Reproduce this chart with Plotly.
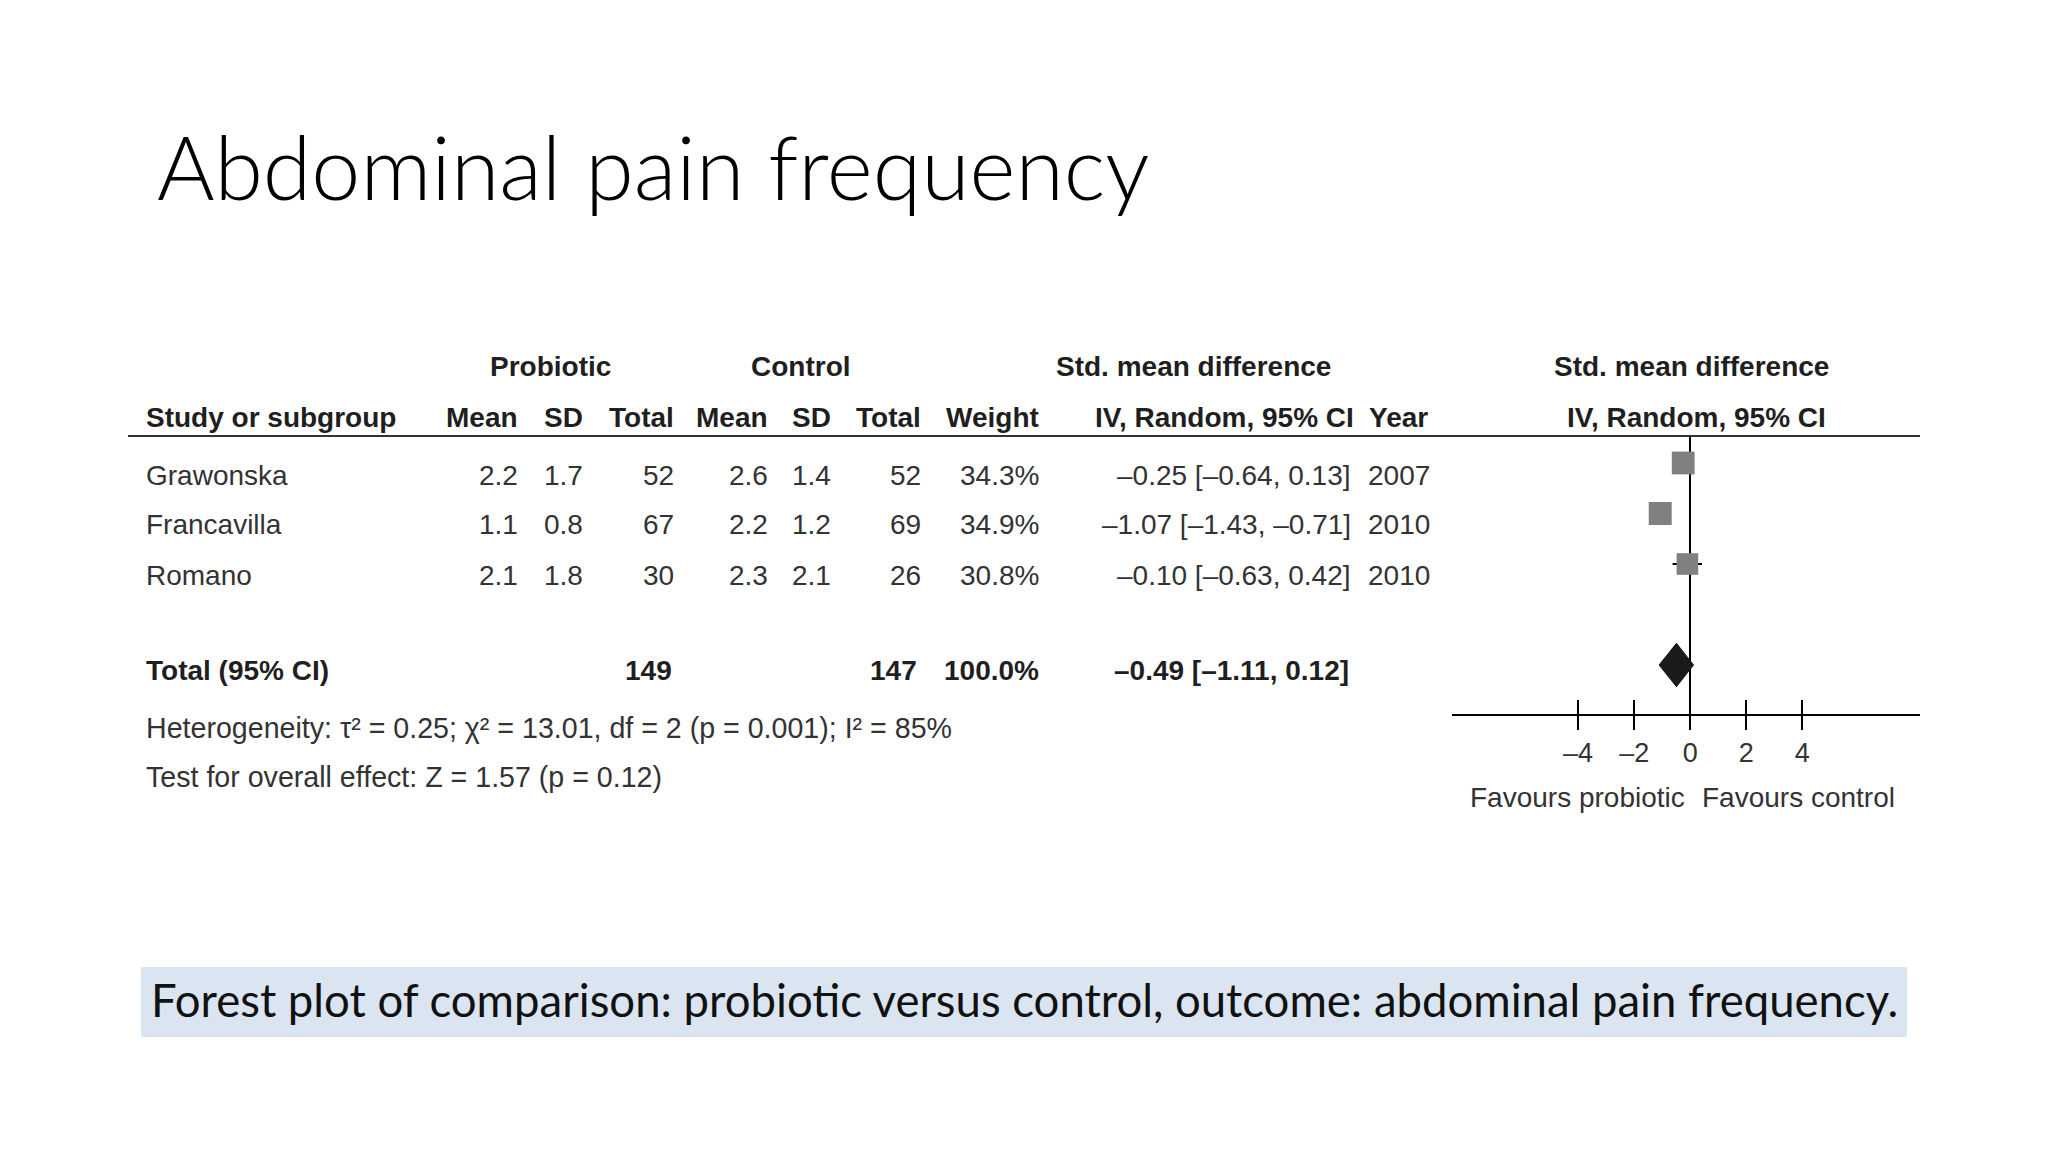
import plotly.graph_objects as go

# ---------------- data ----------------
studies = ["Grawonska", "Francavilla", "Romano"]
prob_mean = [2.2, 1.1, 2.1]
prob_sd = [1.7, 0.8, 1.8]
prob_n = [52, 67, 30]
ctrl_mean = [2.6, 2.2, 2.3]
ctrl_sd = [1.4, 1.2, 2.1]
ctrl_n = [52, 69, 26]
weight = [34.3, 34.9, 30.8]
smd = [-0.25, -1.07, -0.10]
ci_low = [-0.64, -1.43, -0.63]
ci_high = [0.13, -0.71, 0.42]
years = [2007, 2010, 2010]

total_label = "Total (95% CI)"
total_prob_n = 149
total_ctrl_n = 147
total_weight = 100.0
total_smd = -0.49
total_low = -1.11
total_high = 0.12

heterogeneity = "Heterogeneity: τ² = 0.25; χ² = 13.01, df = 2 (p = 0.001); I² = 85%"
overall_test = "Test for overall effect: Z = 1.57 (p = 0.12)"

tick_vals = [-4, -2, 0, 2, 4]
tick_text = ["–4", "–2", "0", "2", "4"]

title_text = "Abdominal pain frequency"
caption_text = "Forest plot of comparison: probiotic versus control, outcome: abdominal pain frequency."
favours_left = "Favours probiotic"
favours_right = "Favours control"

# ---------------- helpers ----------------
OFF = 8
W, H = 2048 - OFF, 1152 - OFF
SANS = "Liberation Sans, Arial, sans-serif"


def X(px):
    return (px - OFF) / W


def Y(py):
    return 1 - (py - OFF) / H


def fmt(v):
    s = f"{abs(v):.2f}"
    return "–" + s if v < 0 else s


annotations = []


def txt(s, x, y, anchor="left", bold=False, size=28, color="#333333", family=SANS, weight=None):
    annotations.append(dict(
        text=s, x=X(x), y=Y(y), xref="paper", yref="paper",
        xanchor=anchor, yanchor="middle", showarrow=False, borderpad=0,
        font=dict(family=family, size=size, color=color,
                  weight=weight if weight is not None else ("bold" if bold else "normal")),
    ))


HEAD = "#1f1f1f"
LEFT = 145

# header row 1
txt("Probiotic", 550, 367, "center", True, color=HEAD)
txt("Control", 801, 367, "center", True, color=HEAD)
txt("Std. mean difference", 1193, 367, "center", True, color=HEAD)
txt("Std. mean difference", 1691, 367, "center", True, color=HEAD)

# header row 2
col_right = {"pm": 519, "psd": 584, "pn": 675, "cm": 769, "csd": 832, "cn": 922, "w": 1040}
txt("Study or subgroup", LEFT, 417, "left", True, color=HEAD)
txt("Mean", col_right["pm"], 417, "right", True, color=HEAD)
txt("SD", col_right["psd"], 417, "right", True, color=HEAD)
txt("Total", col_right["pn"], 417, "right", True, color=HEAD)
txt("Mean", col_right["cm"], 417, "right", True, color=HEAD)
txt("SD", col_right["csd"], 417, "right", True, color=HEAD)
txt("Total", col_right["cn"], 417, "right", True, color=HEAD)
txt("Weight", col_right["w"], 417, "right", True, color=HEAD)
txt("IV, Random, 95% CI", 1355, 417, "right", True, color=HEAD)
txt("Year", 1368, 417, "left", True, color=HEAD)
txt("IV, Random, 95% CI", 1696, 417, "center", True, color=HEAD)

# study rows
for i, name in enumerate(studies):
    yy = 475 + 50 * i
    txt(name, LEFT, yy, "left")
    txt(f"{prob_mean[i]:.1f}", col_right["pm"], yy, "right")
    txt(f"{prob_sd[i]:.1f}", col_right["psd"], yy, "right")
    txt(str(prob_n[i]), col_right["pn"], yy, "right")
    txt(f"{ctrl_mean[i]:.1f}", col_right["cm"], yy, "right")
    txt(f"{ctrl_sd[i]:.1f}", col_right["csd"], yy, "right")
    txt(str(ctrl_n[i]), col_right["cn"], yy, "right")
    txt(f"{weight[i]:.1f}%", col_right["w"], yy, "right")
    txt(f"{fmt(smd[i])} [{fmt(ci_low[i])}, {fmt(ci_high[i])}]", 1352, yy, "right")
    txt(str(years[i]), 1367, yy, "left")

# total row
txt(total_label, LEFT, 670, "left", True, color=HEAD)
txt(str(total_prob_n), 673, 670, "right", True, color=HEAD)
txt(str(total_ctrl_n), 918, 670, "right", True, color=HEAD)
txt(f"{total_weight:.1f}%", 1040, 670, "right", True, color=HEAD)
txt(f"{fmt(total_smd)} [{fmt(total_low)}, {fmt(total_high)}]", 1350, 670, "right", True, color=HEAD)

txt(heterogeneity, LEFT, 728, "left", size=28.6)
txt(overall_test, LEFT, 777, "left", size=28.6)

txt(favours_left, 1577, 797, "center")
txt(favours_right, 1798, 797, "center")

# title and caption
txt(title_text, 156, 166, "left", size=88, color="#000000",
    family="Lato, Open Sans, sans-serif", weight=300)
txt(caption_text, 150, 1000, "left", size=45.5, color="#111111",
    family="Lato, sans-serif")

# ---------------- figure ----------------
fig = go.Figure()

rows = list(range(len(studies)))

# confidence-interval whiskers (drawn first so the squares sit on top)
wx, wy = [], []
for r, lo, hi in zip(rows, ci_low, ci_high):
    wx += [lo, hi, None]
    wy += [r, r, None]
fig.add_trace(go.Scatter(
    x=wx, y=wy, mode="lines", line=dict(color="#000000", width=2),
    hoverinfo="skip", showlegend=False,
))

fig.add_trace(go.Scatter(
    x=smd, y=rows, mode="markers",
    marker=dict(symbol="square", size=[23 * (w / max(weight)) ** 0.5 for w in weight],
                color="#808080", opacity=1, line=dict(width=0)),
    hoverinfo="skip", showlegend=False,
))

total_row = 4
dh = 0.43
fig.add_trace(go.Scatter(
    x=[total_low, total_smd, total_high, total_smd, total_low],
    y=[total_row, total_row - dh, total_row, total_row + dh, total_row],
    xaxis="x2", yaxis="y",
    mode="lines", fill="toself", fillcolor="#1a1a1a",
    line=dict(color="#1a1a1a", width=1), hoverinfo="skip", showlegend=False,
))

shapes = [
    dict(type="rect", xref="paper", yref="paper", x0=X(141), x1=X(1907), y0=Y(1037), y1=Y(967),
         fillcolor="#dbe5f1", line=dict(width=0), layer="below"),
    dict(type="line", xref="paper", yref="paper", x0=X(128), x1=X(1920), y0=Y(436), y1=Y(436),
         line=dict(color="#333333", width=2)),
]

xr = [-8.5, 8.2]
row0_px, row_step = 463, 50.5
yr = [(714 - row0_px) / row_step, (436 - row0_px) / row_step]

fig.update_layout(
    width=W, height=H, autosize=False,
    margin=dict(l=0, r=0, t=0, b=0, pad=0),
    paper_bgcolor="white", plot_bgcolor="rgba(0,0,0,0)",
    showlegend=False,
    annotations=annotations,
    shapes=shapes,
    xaxis=dict(domain=[X(1452), X(1920)], range=xr, anchor="y",
               showline=True, linecolor="#000000", linewidth=2,
               ticks="outside", ticklen=14, tickwidth=2, tickcolor="#000000",
               tickmode="array", tickvals=tick_vals, ticktext=tick_text,
               tickfont=dict(family=SANS, size=27, color="#333333"),
               ticklabelstandoff=0,
               zeroline=True, zerolinecolor="#000000", zerolinewidth=2,
               showgrid=False, fixedrange=True),
    xaxis2=dict(overlaying="x", anchor="y", range=xr, side="bottom",
                ticks="inside", ticklen=14, tickwidth=2, tickcolor="#000000",
                tickmode="array", tickvals=tick_vals, showticklabels=False,
                showline=False, showgrid=False, zeroline=False, fixedrange=True),
    yaxis=dict(domain=[Y(714), Y(436)], range=yr, visible=False,
               showgrid=False, zeroline=False, fixedrange=True),
)

fig.write_html("out.html")
